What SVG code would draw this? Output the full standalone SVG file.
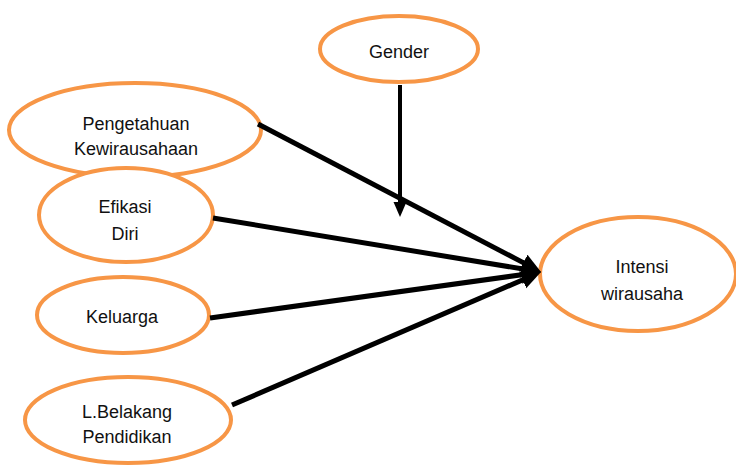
<svg xmlns="http://www.w3.org/2000/svg" width="736" height="466" viewBox="0 0 736 466">
<defs>
<style>
.node ellipse{fill:#fff;stroke:#F79646;stroke-width:4}
.node text{font-family:"Liberation Sans",Arial,sans-serif;font-size:18px;fill:#111;text-anchor:middle}
.conn line{stroke:#000;stroke-width:5}
</style>
<marker id="ah" markerUnits="userSpaceOnUse" markerWidth="22" markerHeight="20" refX="8" refY="9" orient="auto">
<path d="M0,0 L20,9 L0,18 z" fill="#000"/>
</marker>
<marker id="ahs" markerUnits="userSpaceOnUse" markerWidth="17" markerHeight="15" refX="5" refY="6.5" orient="auto">
<path d="M0,0 L15,6.5 L0,13 z" fill="#000"/>
</marker>
</defs>
<rect width="736" height="466" fill="#fff"/>
<g id="n-pengetahuan" class="node">
<ellipse cx="135" cy="130" rx="126" ry="47"/>
<text x="136" y="130">Pengetahuan</text>
<text x="136" y="155">Kewirausahaan</text>
</g>
<g id="n-efikasi" class="node">
<ellipse cx="126" cy="215" rx="87" ry="47"/>
<text x="125" y="213">Efikasi</text>
<text x="125" y="240">Diri</text>
</g>
<g id="n-keluarga" class="node">
<ellipse cx="123" cy="315" rx="86" ry="38"/>
<text x="122" y="323">Keluarga</text>
</g>
<g id="n-latar" class="node">
<ellipse cx="128" cy="420" rx="103" ry="43"/>
<text x="127" y="418">L.Belakang</text>
<text x="127" y="443">Pendidikan</text>
</g>
<g id="n-gender" class="node">
<ellipse cx="399" cy="49" rx="79" ry="33"/>
<text x="399" y="58">Gender</text>
</g>
<g id="n-intensi" class="node">
<ellipse cx="638" cy="274" rx="98" ry="57"/>
<text x="642" y="273">Intensi</text>
<text x="642" y="300">wirausaha</text>
</g>
<g id="connectors" class="conn">
<line x1="258" y1="124" x2="530.4" y2="266.4" marker-end="url(#ah)"/>
<line x1="213" y1="218" x2="529.2" y2="270" marker-end="url(#ah)"/>
<line x1="210" y1="318" x2="529.1" y2="273.7" marker-end="url(#ah)"/>
<line x1="232" y1="405" x2="530" y2="276.7" marker-end="url(#ah)"/>
<line x1="400" y1="85" x2="400" y2="207" style="stroke-width:4" marker-end="url(#ahs)"/>
</g>
</svg>
